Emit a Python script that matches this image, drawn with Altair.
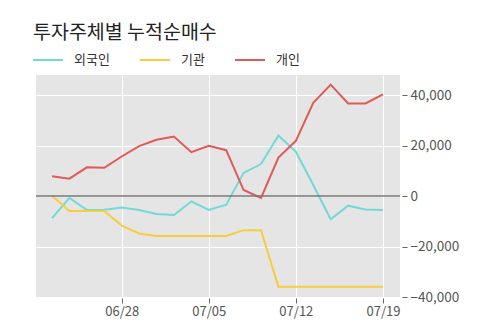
import altair as alt
import pandas as pd

dates = ["06/22", "06/23", "06/24", "06/25", "06/28", "06/29", "06/30", "07/01", "07/02", "07/05",
         "07/06", "07/07", "07/08", "07/09", "07/12", "07/13", "07/14", "07/15", "07/16", "07/19"]
foreign = [-8700, -700, -5500, -5400, -4500, -5500, -7100, -7500, -2100, -5500,
           -3400, 9200, 12700, 24000, 17600, 4400, -9200, -3800, -5300, -5500]
inst = [100, -5900, -5900, -5900, -11700, -14800, -15800, -15800, -15800, -15800,
        -15800, -13500, -13500, -35900, -35900, -35900, -35900, -35900, -35900, -35900]
indiv = [7900, 6900, 11400, 11200, 15700, 19800, 22300, 23600, 17400, 19900,
         18200, 2400, -700, 15300, 21900, 37000, 44200, 36700, 36700, 40300]
series_names = ["외국인", "기관", "개인"]
series_colors = ["#72D9D6", "#F8CD3D", "#E05A58"]
tick_labels = ["06/28", "07/05", "07/12", "07/19"]
y_ticks = [-40000, -20000, 0, 20000, 40000]

rows = []
for name, vals in zip(series_names, [foreign, inst, indiv]):
    for i, (d, v) in enumerate(zip(dates, vals)):
        rows.append({"idx": i, "date": d, "series": name, "value": v})
df = pd.DataFrame(rows)

tick_idx = [dates.index(t) for t in tick_labels]
label_expr = "[" + ",".join("'%s'" % d for d in dates) + "][datum.value]"

font = "Noto Sans CJK KR"

y_scale = alt.Scale(domain=[-40000, 48000], nice=False)
y_axis = alt.Axis(orient="right", values=y_ticks, labelExpr="format(datum.value, ',')", title=None,
                  grid=True, gridColor="white", gridWidth=1,
                  domain=False, ticks=True, tickSize=5, tickColor="#666",
                  offset=2, labelPadding=3, labelColor="#555",
                  labelFontSize=13.5, labelFont=font)

x_enc = alt.X("idx:Q",
              scale=alt.Scale(domain=[-0.92, 19.98], nice=False, zero=False),
              axis=alt.Axis(values=tick_idx, labelExpr=label_expr, title=None,
                            grid=True, gridColor="white", gridWidth=1,
                            domain=False, ticks=True, tickSize=5, tickColor="#666",
                            offset=1, labelPadding=2, labelColor="#555",
                            labelFontSize=13, labelFont=font))

lines = alt.Chart(df).mark_line(strokeWidth=2).encode(
    x=x_enc,
    y=alt.Y("value:Q", scale=y_scale, axis=y_axis),
    color=alt.Color("series:N",
                    scale=alt.Scale(domain=series_names, range=series_colors),
                    sort=series_names,
                    legend=alt.Legend(title=None, orient="none", legendX=-4, legendY=-31,
                                      direction="horizontal", symbolType="stroke",
                                      symbolSize=900, symbolStrokeWidth=2,
                                      labelFontSize=13, labelFont=font, labelColor="#333",
                                      labelOffset=10, columnPadding=26)),
    detail="series:N",
    order="idx:Q",
)

zero = alt.Chart(pd.DataFrame({"value": [0]})).mark_rule(color="#777", strokeWidth=1.5).encode(
    y=alt.Y("value:Q", scale=y_scale, axis=y_axis))

chart = alt.layer(lines, zero).properties(
    width=364, height=222,
    autosize=alt.AutoSizeParams(type="none"),
    padding={"left": 36, "top": 75, "right": 100, "bottom": 26},
    title=alt.Title("투자주체별 누적순매수", anchor="start", fontSize=19.5, font=font,
                    fontWeight="normal", color="#222", offset=1, dx=1),
    background="white",
).configure_view(fill="#E5E5E5", stroke=None)

chart.save("out.html", embed_options={"renderer": "svg", "actions": False})
